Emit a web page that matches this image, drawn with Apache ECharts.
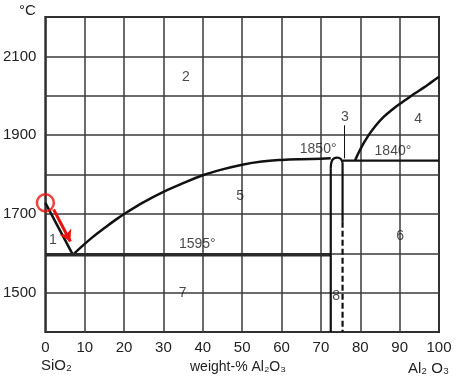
<!DOCTYPE html>
<html>
<head>
<meta charset="utf-8">
<script src="https://cdn.jsdelivr.net/npm/echarts@6/dist/echarts.min.js"></script>
<style>
html,body{margin:0;padding:0;background:#fff;}
#c{width:460px;height:388px;}
</style>
</head>
<body>
<div id="c"></div>
<script>
// ---- data (wt% Al2O3, °C) ----
const xTicks = [0,10,20,30,40,50,60,70,80,90,100];
const yTicks = [1500,1700,1900,2100];
const liquidusSiO2 = [[0,1728],[7,1596]];
const liquidusMain = [[7,1596],[9,1615],[12,1641],[15,1664],[18,1686],[21,1706],[25,1730],[30,1756],[35,1778],[40,1798],[45,1813],[50,1825],[55,1833],[60,1837],[65,1839],[70,1840],[72.5,1841]];
const solidus1595 = [[0,1596],[72.5,1596]];
const mulliteLeft = [[72.5,1400],[72.5,1816]];
const mulliteCap = [[72.5,1816],[72.7,1832],[73.2,1840],[74.2,1843],[75.0,1840],[75.5,1830]];
const mulliteRight = [[75.5,1830],[75.5,1680]];
const mulliteDashed = [[75.5,1680],[75.5,1400]];
const line1840 = [[75.5,1835],[100,1835]];
const liquidusAl2O3 = [[78.7,1836],[80,1864],[82,1898],[84,1925],[86,1947],[88,1964],[90,1979],[92,1993],[94,2007],[96,2020],[98,2034],[100,2048]];
const pointer3 = [[76,1841],[76,1925]];
const regionLabels = ['1','2','3','4','5','6','7','8','1850°','1840°','1595°'];
const regionX = [1.9,35.7,76.1,94.7,49.5,90.1,34.9,73.9,69.3,88.3,38.6];
const regionY = [1633,2046,1946,1940,1745,1643,1499,1492,1865,1859,1623];
const markCircle = [[0,1728]];
const markArrow = [[2.1,1711],[6.35,1630]];

const chart = echarts.init(document.getElementById('c'));
const FONT = 'Liberation Sans, Arial, sans-serif';
const ink = '#111';
function line(data, w, extra){
  return Object.assign({type:'line', data:data, showSymbol:false, symbol:'none', silent:true,
    lineStyle:{color:ink, width:w}, clip:false, z:3, animation:false}, extra||{});
}
const option = {
  animation:false,
  grid:{left:45, top:17, right:21, bottom:56, show:true, borderColor:'#1a1a1a', borderWidth:2},
  xAxis:{type:'value', min:0, max:100, interval:10,
    axisLine:{show:false}, axisTick:{show:false},
    splitLine:{show:true, lineStyle:{color:'#3a3a3a', width:1.5}},
    axisLabel:{color:'#222', fontFamily:FONT, fontSize:15, margin:8,
      formatter:v=> xTicks.indexOf(v)>=0 ? String(v) : ''}},
  yAxis:{type:'value', min:1400, max:2200, interval:100,
    axisLine:{show:false}, axisTick:{show:false},
    splitLine:{show:true, lineStyle:{color:'#3a3a3a', width:1.5}},
    axisLabel:{color:'#222', fontFamily:FONT, fontSize:15, margin:9,
      formatter:v=> yTicks.indexOf(v)>=0 ? String(v) : ''}},
  graphic:[
    {type:'text', left:19, top:3, style:{text:'°C', font:'15px '+FONT, fill:'#222'}},
    {type:'text', left:41, top:358, style:{text:'SiO₂', font:'15px '+FONT, fill:'#222'}},
    {type:'text', left:190, top:360, style:{text:'weight-% Al₂O₃', font:'14px '+FONT, fill:'#222'}},
    {type:'text', left:408, top:361, style:{text:'Al₂ O₃', font:'15px '+FONT, fill:'#222'}}
  ],
  series:[
    line(liquidusSiO2, 2.5),
    line(liquidusMain, 2.5, {smooth:0.4}),
    line(solidus1595, 3.5, {lineStyle:{color:'#2a2a2a', width:3.5}}),
    line(mulliteLeft, 2.2),
    line(mulliteCap, 2.2, {smooth:0.5}),
    line(mulliteRight, 2.2),
    line(mulliteDashed, 2.2, {lineStyle:{color:ink, width:2.2, type:[6,3]}}),
    line(line1840, 2.2),
    line(liquidusAl2O3, 2.5, {smooth:0.4}),
    line(pointer3, 1),
    {type:'scatter', data:regionX.map((x,i)=>({name:regionLabels[i], value:[x, regionY[i]]})),
      symbolSize:0, silent:true, z:4, animation:false,
      label:{show:true, position:'inside', formatter:p=>p.name, color:'#1a1a1a', fontFamily:FONT, fontSize:14}},
    {type:'scatter', data:markCircle, symbol:'circle', symbolSize:17, clip:false, silent:true, z:6,
      itemStyle:{color:'rgba(0,0,0,0)', borderColor:'#e8140c', borderWidth:2.5}},
    {type:'line', data:[], silent:true, z:6,
      markLine:{silent:true, symbol:['none','arrow'], symbolSize:[10,11], animation:false,
        label:{show:false},
        lineStyle:{color:'#e8140c', width:3, type:'solid'},
        data:[[{coord:markArrow[0]},{coord:markArrow[1]}]]}}
  ]
};
chart.setOption(option);
</script>
</body>
</html>
